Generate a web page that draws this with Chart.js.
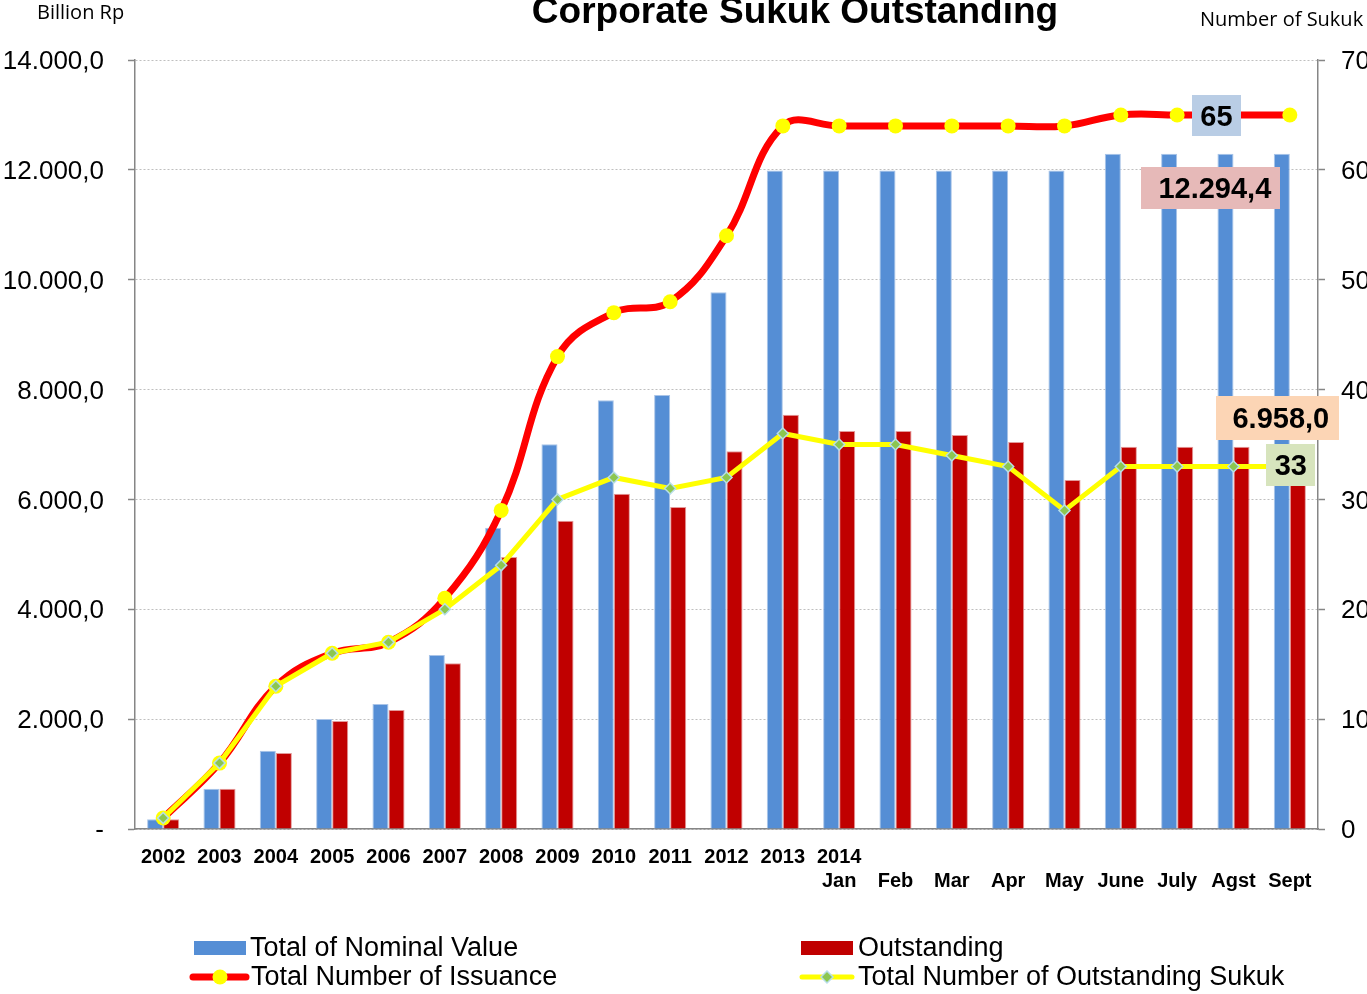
<!DOCTYPE html>
<html>
<head>
<meta charset="utf-8">
<title>Corporate Sukuk Outstanding</title>
<script src="https://cdn.jsdelivr.net/npm/chart.js@4.4.1/dist/chart.umd.min.js"></script>
<style>
    html, body { margin: 0; padding: 0; background: #ffffff; }
    #wrap { width: 1367px; height: 994px; position: relative; }
</style>
</head>
<body>
<div id="wrap"><canvas id="sukukChart" width="1367" height="994"></canvas></div>
<script>
const yearLabels = ["2002", "2003", "2004", "2005", "2006", "2007", "2008", "2009", "2010", "2011", "2012", "2013"];
const monthLabels = ["Jan", "Feb", "Mar", "Apr", "May", "June", "July", "Agst", "Sept"];
const monthYear = "2014";

// Billion Rp
const nominalValue = [177, 734, 1425, 2003, 2276, 3168, 5485, 7003, 7804, 7901, 9770, 11990,
    11990, 11990, 11990, 11990, 11990, 12294.4, 12294.4, 12294.4, 12294.4];
const outstandingValue = [177, 734, 1384, 1966, 2166, 3016, 4952, 5613, 6105, 5862, 6876, 7543,
    7246, 7246, 7173, 7045, 6354, 6958, 6958, 6958, 6958];

// Number of Sukuk
const issuanceCount = [1, 6, 13, 16, 17, 21, 29, 43, 47, 48, 54, 64,
    64, 64, 64, 64, 64, 65, 65, 65, 65];
const outstandingCount = [1, 6, 13, 16, 17, 20, 24, 30, 32, 31, 32, 36,
    35, 35, 34, 33, 29, 33, 33, 33, 33];

const leftTickLabels = ["-", "2.000,0", "4.000,0", "6.000,0", "8.000,0", "10.000,0", "12.000,0", "14.000,0"];
const rightTickLabels = ["0", "10", "20", "30", "40", "50", "60", "70"];

const categories = yearLabels.concat(
    monthLabels.map((m, i) => [i === 0 ? monthYear : "", m])
);

const FONT = "'Liberation Sans', Arial, sans-serif";

function formatRp(v) {
    const parts = v.toFixed(1).split(".");
    parts[0] = parts[0].replace(/\B(?=(\d{3})+(?!\d))/g, ".");
    return parts.join(",");
}

const last = categories.length - 1;

// boxed value labels drawn on top of the chart
const callouts = [
    { text: String(issuanceCount[last - 1]), index: last - 1, value: issuanceCount[last - 1], axis: "y1",
      dx: -17, dy: 1, w: 49, h: 41, tdx: 0, fill: "#B9CDE5" },
    { text: formatRp(nominalValue[last]), index: last, value: nominalValue[last], axis: "y",
      dx: -79, dy: 34, w: 139, h: 42, tdx: 4, fill: "#E6B9B8" },
    { text: formatRp(outstandingValue[last]), index: last, value: outstandingValue[last], axis: "y",
      dx: -12, dy: -29, w: 123, h: 44, tdx: 3, fill: "#FCD5B5" },
    { text: String(outstandingCount[last]), index: last, value: outstandingCount[last], axis: "y1",
      dx: 1, dy: -1, w: 49, h: 42, tdx: 0, fill: "#D7E4BD" },
];

const calloutPlugin = {
    id: "callouts",
    afterDatasetsDraw(chart) {
        const ctx = chart.ctx;
        const xs = chart.scales.x;
        ctx.save();
        ctx.font = "bold 29px " + FONT;
        ctx.textAlign = "center";
        ctx.textBaseline = "middle";
        callouts.forEach((c) => {
            const cx = xs.getPixelForValue(c.index) + c.dx;
            const cy = chart.scales[c.axis].getPixelForValue(c.value) + c.dy;
            ctx.fillStyle = c.fill;
            ctx.fillRect(Math.round(cx - c.w / 2), Math.round(cy - c.h / 2), c.w, c.h);
            ctx.fillStyle = "#000000";
            ctx.fillText(c.text, cx + c.tdx, cy + 2);
        });
        ctx.restore();
    },
};

// title, axis captions and the 2x2 legend
const decorPlugin = {
    id: "decor",
    afterDraw(chart) {
        const ctx = chart.ctx;
        const ds = chart.data.datasets;
        ctx.save();

        ctx.fillStyle = "#000000";
        ctx.textBaseline = "alphabetic";
        ctx.font = "bold 37px " + FONT;
        ctx.textAlign = "center";
        ctx.fillText("Corporate Sukuk Outstanding", 795, 23);

        ctx.font = "20px 'Open Sans', sans-serif";
        ctx.textAlign = "left";
        ctx.fillText("Billion Rp", 37, 19);
        ctx.fillText("Number of Sukuk", 1200, 26);

        ctx.font = "27px " + FONT;
        ctx.textBaseline = "middle";

        // bars
        ctx.fillStyle = ds[0].backgroundColor;
        ctx.fillRect(194, 941, 52, 14);
        ctx.fillStyle = ds[1].backgroundColor;
        ctx.fillRect(801, 941, 52, 14);

        // red line with yellow dot
        ctx.strokeStyle = ds[2].borderColor;
        ctx.lineWidth = 7;
        ctx.lineCap = "round";
        ctx.beginPath();
        ctx.moveTo(193, 977);
        ctx.lineTo(246, 977);
        ctx.stroke();
        ctx.fillStyle = ds[2].pointBackgroundColor;
        ctx.beginPath();
        ctx.arc(220, 977, 7.5, 0, Math.PI * 2);
        ctx.fill();

        // yellow line with diamond
        ctx.strokeStyle = ds[3].borderColor;
        ctx.lineWidth = 5;
        ctx.beginPath();
        ctx.moveTo(802, 977);
        ctx.lineTo(852, 977);
        ctx.stroke();
        ctx.fillStyle = ds[3].pointBackgroundColor;
        ctx.strokeStyle = ds[3].pointBorderColor;
        ctx.lineWidth = 1.5;
        ctx.beginPath();
        ctx.moveTo(827, 971);
        ctx.lineTo(833, 977);
        ctx.lineTo(827, 983);
        ctx.lineTo(821, 977);
        ctx.closePath();
        ctx.fill();
        ctx.stroke();

        ctx.fillStyle = "#000000";
        ctx.fillText(ds[0].label, 250, 949);
        ctx.fillText(ds[1].label, 858, 949);
        ctx.fillText(ds[2].label, 251, 978);
        ctx.fillText(ds[3].label, 858, 978);

        ctx.restore();
    },
};

const ctx = document.getElementById("sukukChart").getContext("2d");

new Chart(ctx, {
    type: "bar",
    data: {
        labels: categories,
        datasets: [
            {
                label: "Total of Nominal Value",
                data: nominalValue,
                yAxisID: "y",
                backgroundColor: "#558ED5",
                borderColor: "#A9C4E8",
                borderWidth: 1,
                barPercentage: 1.0,
                categoryPercentage: 0.57,
                order: 2,
            },
            {
                label: "Outstanding",
                data: outstandingValue,
                yAxisID: "y",
                backgroundColor: "#C00000",
                borderColor: "#E39A9A",
                borderWidth: 1,
                barPercentage: 1.0,
                categoryPercentage: 0.57,
                order: 2,
            },
            {
                type: "line",
                label: "Total Number of Issuance",
                data: issuanceCount,
                yAxisID: "y1",
                borderColor: "#FF0000",
                borderWidth: 7,
                tension: 0.4,
                pointRadius: 7.5,
                pointBorderWidth: 0,
                pointBackgroundColor: "#FFFF00",
                pointBorderColor: "#FFFF00",
                order: 1,
            },
            {
                type: "line",
                label: "Total Number of Outstanding Sukuk",
                data: outstandingCount,
                yAxisID: "y1",
                borderColor: "#FFFF00",
                borderWidth: 5,
                tension: 0,
                pointStyle: "rectRot",
                pointRadius: 5.5,
                pointBorderWidth: 1.5,
                pointBackgroundColor: "#8CC650",
                pointBorderColor: "#B7DEE8",
                order: 0,
            },
        ],
    },
    options: {
        responsive: false,
        animation: false,
        layout: { padding: { top: 60, left: 0, right: 0, bottom: 0 } },
        plugins: {
            legend: { display: false },
            tooltip: { enabled: false },
            title: { display: false },
        },
        scales: {
            x: {
                afterFit(scale) { scale.height = 165; },
                grid: { display: false, drawTicks: false },
                border: { display: true, color: "#868686", width: 1.5 },
                ticks: {
                    autoSkip: false,
                    maxRotation: 0,
                    padding: 16,
                    color: "#000000",
                    font: { family: FONT, size: 20, weight: "bold", lineHeight: 1.2 },
                },
            },
            y: {
                position: "left",
                min: 0,
                max: 14000,
                afterFit(scale) { scale.width = 135; },
                grid: {
                    color: "#BFBFBF",
                    lineWidth: 1,
                    tickLength: 7,
                    tickColor: "#868686",
                    tickWidth: 1.5,
                    tickBorderDash: [],
                },
                border: { color: "#868686", width: 1.5, dash: [2, 2] },
                ticks: {
                    stepSize: 2000,
                    padding: 24,
                    labelOffset: 2,
                    color: "#000000",
                    font: { family: FONT, size: 26 },
                    callback: (v, i) => leftTickLabels[i],
                },
            },
            y1: {
                position: "right",
                min: 0,
                max: 70,
                afterFit(scale) { scale.width = 49; },
                grid: {
                    drawOnChartArea: false,
                    tickLength: 7,
                    tickColor: "#868686",
                    tickWidth: 1.5,
                },
                border: { color: "#868686", width: 1.5 },
                ticks: {
                    stepSize: 10,
                    padding: 16,
                    labelOffset: 2,
                    color: "#000000",
                    font: { family: FONT, size: 26 },
                    callback: (v, i) => rightTickLabels[i],
                },
            },
        },
    },
    plugins: [calloutPlugin, decorPlugin],
});
</script>
</body>
</html>
